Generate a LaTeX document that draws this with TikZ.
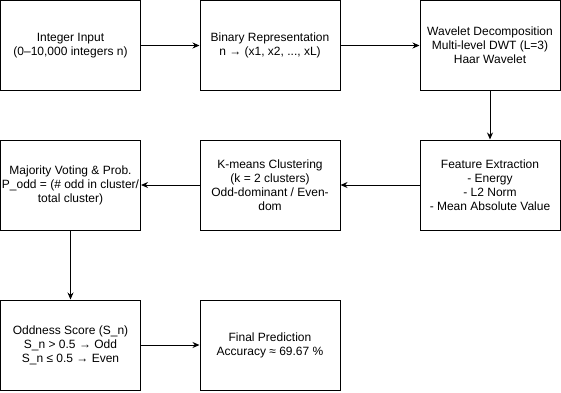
\documentclass[tikz,border=0pt]{standalone}
\usepackage{fontspec}
\setmainfont{Liberation Sans}
\usepackage{tikz}
\usetikzlibrary{arrows.meta}

\begin{document}
\begin{tikzpicture}[
    x=1pt, y=-1pt,
    >={Stealth[length=7pt,width=6pt]},
    stage/.style={
        draw,
        line width=1pt,
        minimum width=140pt,
        minimum height=90pt,
        align=center,
        inner sep=0pt,
        font=\fontsize{12}{14}\selectfont
    },
    flow/.style={
        ->,
        line width=1pt
    }
]

% Rand
\useasboundingbox (0,0) rectangle (561,392);

% Eerste rij
\node[stage] (input) at (70.5,45.5)
    {Integer Input\\(0–10,000 integers n)};
\node[stage] (binary) at (270,45.5)
    {Binary Representation\\n → (x1, x2, ..., xL)};
\node[stage] (wavelet) at (490,45.5)
    {Wavelet Decomposition\\Multi-level DWT (L=3)\\Haar Wavelet};

% Tweede rij
\node[stage] (features) at (490,185)
    {Feature Extraction\\- Energy\\- L2 Norm\\- Mean Absolute Value};
\node[stage] (kmeans) at (270,185)
    {K-means Clustering\\(k = 2 clusters)\\Odd-dominant / Even-\\dom};
\node[stage] (voting) at (70.5,185)
    {Majority Voting \& Prob.\\P\_odd = (\# odd in cluster/\\total cluster)};

% Derde rij
\node[stage] (score) at (70.5,345)
    {Oddness Score (S\_n)\\S\_n > 0.5 → Odd\\S\_n ≤ 0.5 → Even};
\node[stage] (prediction) at (270,345)
    {Final Prediction\\Accuracy ≈ 69.67 \%};

% Pijlen
\draw[flow] (input) -- (binary);
\draw[flow] (binary) -- (wavelet);
\draw[flow] (wavelet) -- (features);
\draw[flow] (features) -- (kmeans);
\draw[flow] (kmeans) -- (voting);
\draw[flow] (voting) -- (score);
\draw[flow] (score) -- (prediction);

\end{tikzpicture}
\end{document}
